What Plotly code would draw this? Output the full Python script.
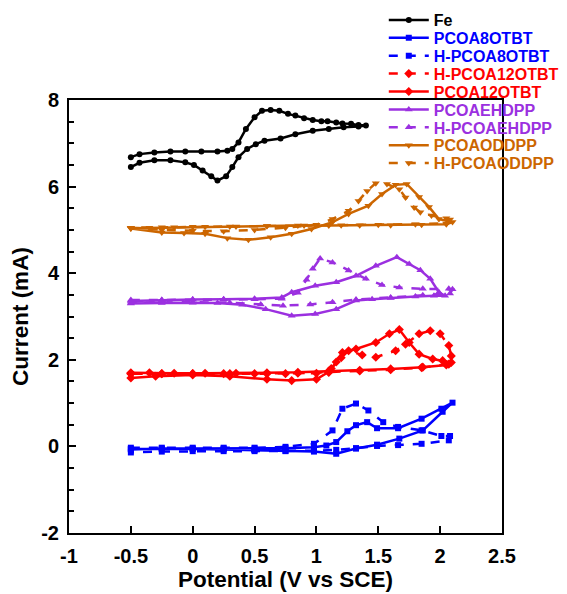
import plotly.graph_objects as go

# ---------------- data ----------------
fe_x = [-0.50,-0.43,-0.31,-0.18,-0.06,0.07,0.20,0.28,0.32,0.37,0.43,0.50,0.56,0.63,0.70,0.77,0.83,0.90,0.97,1.04,1.09,1.16,1.21,1.28,1.34,1.40,
        1.34,1.22,1.10,0.97,0.83,0.71,0.58,0.51,0.44,0.37,0.32,0.27,0.20,0.15,0.08,0.01,-0.06,-0.18,-0.31,-0.43,-0.50]
fe_y = [6.68,6.75,6.79,6.81,6.81,6.81,6.81,6.83,6.87,7.02,7.33,7.60,7.75,7.77,7.75,7.68,7.64,7.58,7.54,7.51,7.51,7.48,7.46,7.45,7.42,7.41,
        7.39,7.37,7.33,7.29,7.21,7.11,7.06,6.98,6.87,6.68,6.45,6.24,6.14,6.24,6.37,6.50,6.56,6.61,6.61,6.55,6.45]

b_x = [-0.50,-0.25,0.0,0.25,0.5,0.75,0.98,1.08,1.16,1.25,1.32,1.41,1.49,1.66,1.85,2.01,2.10,
       2.02,1.86,1.67,1.49,1.32,1.16,0.98,0.75,0.5,0.25,0.0,-0.25,-0.50]
b_y = [-0.07,-0.05,-0.05,-0.05,-0.05,-0.04,-0.02,0.02,0.10,0.35,0.49,0.56,0.42,0.42,0.64,0.87,1.01,
       0.80,0.37,0.18,0.04,-0.05,-0.17,-0.12,-0.10,-0.08,-0.07,-0.06,-0.06,-0.06]

hb_x = [-0.50,-0.25,0.0,0.25,0.5,0.75,0.98,1.13,1.21,1.32,1.42,1.54,1.66,1.85,2.01,2.08,
        2.07,1.85,1.66,1.49,1.32,1.16,0.98,0.75,0.5,0.25,0.0,-0.25,-0.50]
hb_y = [-0.03,-0.03,-0.03,-0.03,-0.03,-0.01,0.06,0.37,0.87,0.99,0.83,0.56,0.45,0.37,0.24,0.24,
        0.14,0.06,0.03,0.01,-0.04,-0.08,-0.10,-0.11,-0.11,-0.11,-0.11,-0.12,-0.14]

hr_x = [-0.50,-0.25,0.0,0.25,0.5,0.75,1.0,1.12,1.20,1.26,1.37,1.48,1.64,1.72,1.83,1.92,2.00,2.07,2.09,
        2.07,1.85,1.6,1.35,1.1,0.85,0.6,0.3,0.0,-0.25,-0.5]
hr_y = [1.68,1.68,1.68,1.68,1.68,1.68,1.69,1.80,2.05,2.21,2.11,2.06,2.21,2.36,2.60,2.67,2.60,2.33,2.09,
        1.90,1.82,1.77,1.74,1.71,1.69,1.68,1.68,1.68,1.68,1.68]

r_x = [-0.50,-0.30,0.0,0.30,0.60,0.80,1.00,1.10,1.16,1.21,1.32,1.48,1.59,1.67,1.75,1.83,1.94,2.02,2.09,
       2.05,1.86,1.6,1.35,1.1,0.85,0.6,0.35,0.1,-0.15,-0.35,-0.50]
r_y = [1.58,1.62,1.65,1.62,1.55,1.52,1.55,1.72,1.95,2.17,2.25,2.40,2.60,2.70,2.40,2.13,2.02,1.98,1.94,
       1.88,1.83,1.79,1.76,1.74,1.71,1.70,1.69,1.69,1.69,1.70,1.70]

p_x = [-0.50,-0.25,0.0,0.25,0.5,0.72,0.80,0.99,1.16,1.32,1.48,1.65,1.75,1.84,1.92,1.99,2.04,
       1.95,1.80,1.60,1.45,1.32,1.16,0.99,0.80,0.59,0.40,0.20,0.0,-0.25,-0.50]
p_y = [3.36,3.38,3.39,3.40,3.41,3.44,3.56,3.71,3.79,3.94,4.17,4.37,4.21,4.07,3.87,3.56,3.48,
       3.48,3.46,3.43,3.40,3.37,3.17,3.06,3.02,3.17,3.27,3.31,3.32,3.31,3.30]

hp_x = [-0.50,-0.25,0.0,0.25,0.5,0.72,0.85,0.92,0.97,1.03,1.13,1.26,1.40,1.53,1.67,1.86,2.07,2.10,
        2.08,1.86,1.60,1.32,1.13,0.95,0.73,0.55,0.3,0.0,-0.25,-0.5]
hp_y = [3.38,3.38,3.39,3.39,3.40,3.41,3.55,3.85,4.10,4.34,4.25,4.06,3.87,3.73,3.67,3.64,3.64,3.63,
        3.53,3.49,3.44,3.39,3.33,3.28,3.25,3.28,3.32,3.33,3.33,3.32]

o_x = [-0.50,-0.25,-0.07,0.10,0.28,0.45,0.63,0.80,0.96,1.13,1.26,1.42,1.53,1.64,1.73,1.83,1.91,1.99,2.06,2.10,
       2.05,1.85,1.60,1.35,1.10,0.85,0.60,0.35,0.10,-0.15,-0.35,-0.50]
o_y = [5.03,4.94,4.93,4.91,4.81,4.77,4.83,4.91,5.02,5.18,5.37,5.56,5.83,6.04,6.06,5.76,5.53,5.25,5.21,5.18,
       5.13,5.12,5.11,5.11,5.10,5.10,5.09,5.08,5.07,5.06,5.05,5.04]

ho_x = [-0.50,-0.25,0.0,0.25,0.5,0.75,1.0,1.13,1.26,1.34,1.41,1.48,1.57,1.67,1.72,1.79,1.84,1.93,2.05,2.08,
        2.05,1.8,1.5,1.2,0.9,0.6,0.3,0.0,-0.25,-0.5]
ho_y = [5.05,5.00,4.98,4.97,5.00,5.05,5.12,5.25,5.44,5.67,5.90,6.08,6.06,5.94,5.75,5.52,5.41,5.33,5.27,5.24,
        5.15,5.13,5.12,5.11,5.10,5.09,5.08,5.07,5.06,5.05]

x_ticks = [-1, -0.5, 0, 0.5, 1, 1.5, 2, 2.5]
y_ticks = [-2, 0, 2, 4, 6, 8]

BLACK = "#000000"
BLUE = "#0000FF"
RED = "#FF0000"
PURPLE = "#9B30E0"
ORANGE = "#CC6600"

series = [
    ("Fe", fe_x, fe_y, BLACK, "solid", "circle", 6),
    ("PCOA8OTBT", b_x, b_y, BLUE, "solid", "square", 6),
    ("H-PCOA8OTBT", hb_x, hb_y, BLUE, "dash", "square", 6),
    ("H-PCOA12OTBT", hr_x, hr_y, RED, "dash", "diamond", 7),
    ("PCOA12OTBT", r_x, r_y, RED, "solid", "diamond", 7),
    ("PCOAEHDPP", p_x, p_y, PURPLE, "solid", "triangle-up", 7),
    ("H-PCOAEHDPP", hp_x, hp_y, PURPLE, "dash", "triangle-up", 7),
    ("PCOAODDPP", o_x, o_y, ORANGE, "solid", "triangle-down", 7),
    ("H-PCOAODDPP", ho_x, ho_y, ORANGE, "dash", "triangle-down", 7),
]

FONT = "Liberation Sans, Arial, sans-serif"

# plot area in screen pixels: left 70, right 503, top 100, bottom 533
# (page body adds ~8 px offset)
ML, MT, PW, PH = 61, 92, 433, 433
ROW0, ROWSTEP = 20, 17.9          # screen y of first legend row and row pitch
PLOT_TOP_SCREEN = 100

fig = go.Figure()
layout_legends = {}
for i, (name, xs, ys, col, dash, sym, sz) in enumerate(series):
    key = "legend" if i == 0 else f"legend{i+1}"
    fig.add_trace(go.Scatter(
        x=xs, y=ys, mode="lines+markers",
        name=f'<span style="color:{col}">{name}</span>',
        line=dict(color=col, width=2.5, dash=dash),
        marker=dict(color=col, symbol=sym, size=sz),
        legend=key,
    ))
    row_px = ROW0 + i * ROWSTEP
    yp = 1 + (PLOT_TOP_SCREEN - row_px) / PH
    layout_legends[key] = dict(
        x=0.727, y=yp, xanchor="left", yanchor="middle",
        bgcolor="rgba(0,0,0,0)", font=dict(size=16, weight="bold"),
        itemwidth=40, borderwidth=0,
    )

fig.update_layout(
    width=567, height=594,
    margin=dict(l=ML, r=567 - ML - PW, t=MT, b=594 - MT - PH, autoexpand=False),
    paper_bgcolor="white", plot_bgcolor="white",
    font=dict(family=FONT, size=20, color="black", weight="bold"),
    showlegend=True,
    **layout_legends,
)
fig.update_xaxes(
    range=[-1, 2.5], tickvals=x_ticks, ticktext=[str(v) for v in x_ticks],
    showgrid=False, zeroline=False, showline=True, linecolor="black", linewidth=2,
    mirror=True, ticks="inside", ticklen=7, tickwidth=2, tickcolor="black",
    ticklabelstandoff=4,
    title=dict(text="Potential (V vs SCE)", font=dict(size=22.5, weight="bold"), standoff=4),
)
fig.update_yaxes(
    range=[-2, 8], tickvals=y_ticks, ticktext=[str(v) for v in y_ticks],
    showgrid=False, zeroline=False, showline=True, linecolor="black", linewidth=2,
    mirror=True, ticks="inside", ticklen=7, tickwidth=2, tickcolor="black",
    ticklabelstandoff=4,
    minor=dict(dtick=0.5, ticks="inside", ticklen=5, tickwidth=2, tickcolor="black", showgrid=False),
    title=dict(text="Current (mA)", font=dict(size=22.5, weight="bold"), standoff=6),
)

fig.write_html("out.html")
